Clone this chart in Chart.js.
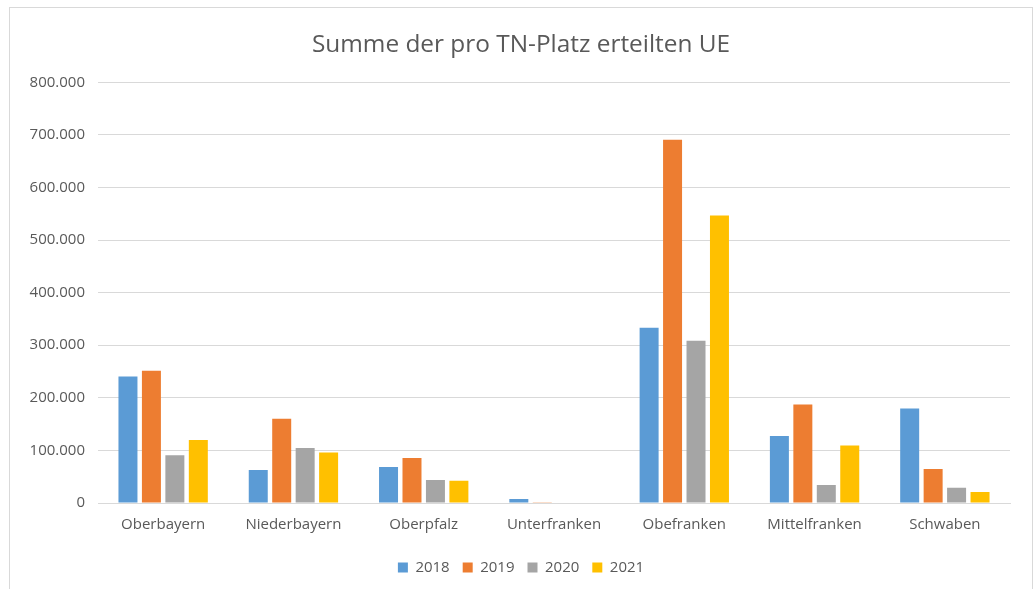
<!DOCTYPE html>
<html>
<head>
<meta charset="utf-8">
<script src="https://cdn.jsdelivr.net/npm/chart.js@4"></script>
<style>
  html, body { margin: 0; padding: 0; background: #fff; overflow: hidden; }
  #box {
    position: absolute; left: 9px; top: 7px;
    width: 1022px; height: 600px;
    border: 1px solid #d9d9d9;
  }
  #chart { display: block; }
</style>
</head>
<body>
<div id="box"><canvas id="chart" width="1022" height="581"></canvas></div>
<script>
const regionen = ["Oberbayern", "Niederbayern", "Oberpfalz", "Unterfranken", "Obefranken", "Mittelfranken", "Schwaben"];
const jahre = ["2018", "2019", "2020", "2021"];
const werte2018 = [240600, 62900, 68600, 7600, 333300, 127600, 179600];
const werte2019 = [251400, 160000, 85700, 1500, 690800, 187200, 64800];
const werte2020 = [90800, 104800, 43800, 1000, 308600, 34300, 29200];
const werte2021 = [120000, 95800, 42500, 1000, 546700, 109200, 21000];
const farben = ["#5B9BD5", "#ED7D31", "#A5A5A5", "#FFC000"];

const textFarbe = "#595959";
const schrift = "'Open Sans', sans-serif";

// 800000 -> "800.000"
function punkte(v) {
  return String(v).replace(/\B(?=(\d{3})+(?!\d))/g, ".");
}

const ctx = document.querySelector("#chart");

let diagramm = new Chart(ctx, {
  type: "bar",
  data: {
    labels: regionen,
    datasets: [werte2018, werte2019, werte2020, werte2021].map((w, i) => ({
      label: jahre[i],
      data: w,
      backgroundColor: farben[i],
      categoryPercentage: 0.72,
      barPercentage: 0.81,
    })),
  },
  options: {
    responsive: false,
    animation: false,
    layout: { padding: { left: 0, right: 0, top: 0, bottom: 4 } },
    plugins: {
      title: {
        display: true,
        text: "Summe der pro TN-Platz erteilten UE",
        color: textFarbe,
        font: { family: schrift, size: 24.4, weight: "normal" },
        padding: { top: 22, bottom: 23 },
      },
      legend: {
        position: "bottom",
        labels: {
          color: textFarbe,
          font: { family: schrift, size: 15 },
          boxWidth: 10,
          boxHeight: 10,
          padding: 13,
        },
      },
      tooltip: { enabled: false },
    },
    scales: {
      x: {
        grid: { display: false, drawTicks: false },
        border: { color: "#d9d9d9", width: 1 },
        ticks: { color: textFarbe, font: { family: schrift, size: 15 }, padding: 13, maxRotation: 0 },
        afterFit: (s) => { s.height = 44; },
      },
      y: {
        min: 0,
        max: 800000,
        ticks: {
          stepSize: 100000,
          color: textFarbe,
          font: { family: schrift, size: 15 },
          padding: 13,
          callback: (v) => punkte(v),
        },
        grid: { color: "#d9d9d9", lineWidth: 1, drawTicks: false },
        border: { display: false },
        afterFit: (s) => { s.width = 88; },
      },
      // leerer Rand rechts, damit Titel und Legende mittig bleiben
      rand: {
        position: "right",
        grid: { display: false, drawTicks: false },
        border: { display: false },
        ticks: { display: false },
        afterFit: (s) => { s.width = 22; },
      },
    },
  },
});
</script>
</body>
</html>
